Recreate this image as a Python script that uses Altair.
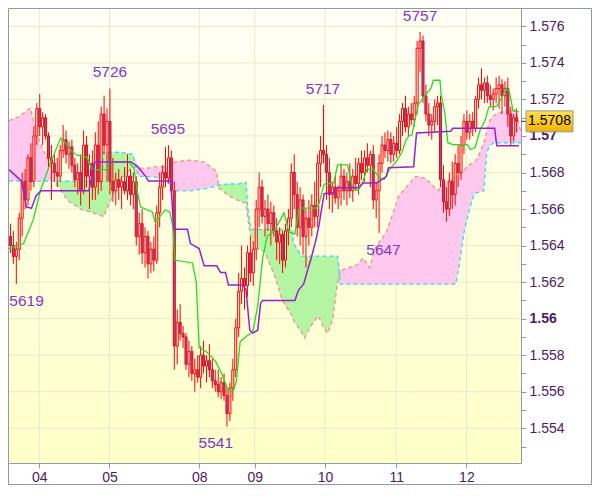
import altair as alt
import pandas as pd

W, H = 512, 454
FONT = "Liberation Sans"
FRAME = "#8E9AA4"
GRID = "#E9E9CC"
LBL = "#4D1A66"
ANN = "#8833CC"
PINK = "#FFC8EE"
GREENF = "#B4F5A4"
SALMON = "#F4908A"
CYAN = "#33DDEE"
TENKAN = "#22DD22"
KIJUN = "#9A1FCF"
RED = "#FF0000"
BEAR = "#6F5BC0"
BULL = "#FFFFE4"

# ---------------- candles (hourly OHLC) ----------------
opens = [
    1.5645, 1.5640, 1.5634, 1.5638, 1.5655, 1.5675, 1.5665, 1.5688, 1.5675, 1.5700,
    1.5715, 1.5705, 1.5710, 1.5700, 1.5688, 1.5685, 1.5680, 1.5678, 1.5692, 1.5698,
    1.5690, 1.5694, 1.5684, 1.5676, 1.5680, 1.5670, 1.5695, 1.5678, 1.5685, 1.5672,
    1.5695, 1.5675, 1.5712, 1.5695, 1.5708, 1.5675, 1.5670, 1.5676, 1.5672, 1.5675,
    1.5670, 1.5678, 1.5668, 1.5675, 1.5645, 1.5652, 1.5636, 1.5645, 1.5630, 1.5638,
    1.5632, 1.5658, 1.5672, 1.5680, 1.5677, 1.5688, 1.5670, 1.5585, 1.5598, 1.5592,
    1.5590, 1.5575, 1.5582, 1.5570, 1.5572, 1.5568, 1.5580, 1.5574, 1.5577, 1.5572,
    1.5566, 1.5564, 1.5560, 1.5565, 1.5558, 1.5548, 1.5562, 1.5572, 1.5595, 1.5615,
    1.5622, 1.5618, 1.5636, 1.5625, 1.5638, 1.5660, 1.5672, 1.5656, 1.5660, 1.5652,
    1.5658, 1.5648, 1.5642, 1.5646, 1.5632, 1.5648, 1.5655, 1.5680, 1.5668, 1.5650,
    1.5665, 1.5645, 1.5655, 1.5650, 1.5662, 1.5656, 1.5685, 1.5692, 1.5690, 1.5680,
    1.5668, 1.5672, 1.5666, 1.5670, 1.5678, 1.5670, 1.5675, 1.5670, 1.5678, 1.5674,
    1.5685, 1.5680, 1.5688, 1.5684, 1.5690, 1.5665, 1.5670, 1.5685, 1.5695, 1.5692,
    1.5698, 1.5690, 1.5696, 1.5692, 1.5708, 1.5715, 1.5705, 1.5712, 1.5709, 1.5718,
    1.5748, 1.5752, 1.5722, 1.5712, 1.5706, 1.5708, 1.5716, 1.5718, 1.5676, 1.5664,
    1.5660, 1.5675, 1.5668, 1.5685, 1.5680, 1.5695, 1.5708, 1.5702, 1.5708, 1.5704,
    1.5720, 1.5728, 1.5725, 1.5729, 1.5722, 1.5720, 1.5723, 1.5726, 1.5728, 1.5722,
    1.5726, 1.5712, 1.5700, 1.5710,
]
highs = [
    1.5652, 1.5648, 1.5642, 1.5658, 1.5680, 1.5682, 1.5690, 1.5696, 1.5705, 1.5718,
    1.5723, 1.5713, 1.5712, 1.5702, 1.5695, 1.5690, 1.5688, 1.5695, 1.5706, 1.5703,
    1.5697, 1.5698, 1.5688, 1.5685, 1.5690, 1.5703, 1.5700, 1.5690, 1.5692, 1.5702,
    1.5708, 1.5716, 1.5722, 1.5715, 1.5726, 1.5688, 1.5680, 1.5682, 1.5678, 1.5683,
    1.5690, 1.5682, 1.5680, 1.5678, 1.5658, 1.5660, 1.5650, 1.5648, 1.5642, 1.5645,
    1.5662, 1.5680, 1.5684, 1.5694, 1.5695, 1.5692, 1.5675, 1.5605, 1.5608, 1.5596,
    1.5592, 1.5588, 1.5585, 1.5578, 1.5580, 1.5585, 1.5588, 1.5580, 1.5586, 1.5578,
    1.5572, 1.5572, 1.5568, 1.5570, 1.5562, 1.5565, 1.5578, 1.5600, 1.5625, 1.5640,
    1.5628, 1.5640, 1.5645, 1.5642, 1.5665, 1.5680, 1.5676, 1.5665, 1.5668, 1.5664,
    1.5662, 1.5655, 1.5650, 1.5648, 1.5652, 1.5660, 1.5685, 1.5690, 1.5675, 1.5672,
    1.5668, 1.5660, 1.5665, 1.5668, 1.5675, 1.5690, 1.5700, 1.5717, 1.5695, 1.5688,
    1.5675, 1.5678, 1.5673, 1.5685, 1.5682, 1.5680, 1.5685, 1.5682, 1.5688, 1.5688,
    1.5692, 1.5692, 1.5696, 1.5692, 1.5695, 1.5675, 1.5690, 1.5700, 1.5702, 1.5703,
    1.5702, 1.5700, 1.5705, 1.5712, 1.5718, 1.5722, 1.5716, 1.5718, 1.5722, 1.5752,
    1.5757, 1.5755, 1.5728, 1.5718, 1.5712, 1.5720, 1.5722, 1.5722, 1.5684, 1.5672,
    1.5680, 1.5686, 1.5690, 1.5695, 1.5700, 1.5712, 1.5714, 1.5712, 1.5713, 1.5722,
    1.5732, 1.5737, 1.5732, 1.5733, 1.5728, 1.5726, 1.5732, 1.5733, 1.5731, 1.5730,
    1.5732, 1.5716, 1.5712, 1.5715,
]
lows = [
    1.5636, 1.5630, 1.5619, 1.5632, 1.5645, 1.5660, 1.5662, 1.5670, 1.5672, 1.5695,
    1.5700, 1.5695, 1.5698, 1.5683, 1.5665, 1.5675, 1.5672, 1.5675, 1.5688, 1.5685,
    1.5682, 1.5680, 1.5672, 1.5668, 1.5662, 1.5668, 1.5672, 1.5660, 1.5665, 1.5665,
    1.5668, 1.5670, 1.5690, 1.5675, 1.5668, 1.5664, 1.5662, 1.5665, 1.5660, 1.5668,
    1.5665, 1.5662, 1.5660, 1.5640, 1.5635, 1.5630, 1.5628, 1.5622, 1.5625, 1.5626,
    1.5630, 1.5650, 1.5665, 1.5672, 1.5674, 1.5668, 1.5572, 1.5575, 1.5588, 1.5584,
    1.5572, 1.5568, 1.5566, 1.5560, 1.5565, 1.5562, 1.5570, 1.5565, 1.5568, 1.5562,
    1.5560, 1.5557, 1.5556, 1.5555, 1.5541, 1.5544, 1.5555, 1.5568, 1.5590, 1.5608,
    1.5605, 1.5612, 1.5620, 1.5618, 1.5632, 1.5650, 1.5652, 1.5645, 1.5648, 1.5640,
    1.5645, 1.5632, 1.5630, 1.5625, 1.5628, 1.5640, 1.5650, 1.5660, 1.5645, 1.5640,
    1.5635, 1.5628, 1.5640, 1.5645, 1.5650, 1.5650, 1.5672, 1.5685, 1.5665, 1.5660,
    1.5658, 1.5663, 1.5660, 1.5662, 1.5665, 1.5662, 1.5666, 1.5664, 1.5670, 1.5668,
    1.5676, 1.5675, 1.5680, 1.5672, 1.5660, 1.5655, 1.5647, 1.5680, 1.5688, 1.5686,
    1.5685, 1.5686, 1.5688, 1.5690, 1.5700, 1.5702, 1.5700, 1.5706, 1.5705, 1.5712,
    1.5735, 1.5718, 1.5708, 1.5700, 1.5698, 1.5702, 1.5706, 1.5672, 1.5658, 1.5653,
    1.5656, 1.5660, 1.5662, 1.5672, 1.5676, 1.5690, 1.5698, 1.5698, 1.5700, 1.5702,
    1.5715, 1.5720, 1.5718, 1.5718, 1.5716, 1.5714, 1.5718, 1.5715, 1.5712, 1.5716,
    1.5705, 1.5695, 1.5697, 1.5702,
]
closes = [
    1.5640, 1.5634, 1.5638, 1.5655, 1.5675, 1.5665, 1.5688, 1.5675, 1.5700, 1.5715,
    1.5705, 1.5710, 1.5700, 1.5688, 1.5685, 1.5680, 1.5678, 1.5692, 1.5698, 1.5690,
    1.5694, 1.5684, 1.5676, 1.5680, 1.5670, 1.5695, 1.5678, 1.5685, 1.5672, 1.5695,
    1.5675, 1.5712, 1.5695, 1.5708, 1.5675, 1.5670, 1.5676, 1.5672, 1.5675, 1.5670,
    1.5678, 1.5668, 1.5675, 1.5645, 1.5652, 1.5636, 1.5645, 1.5630, 1.5638, 1.5632,
    1.5658, 1.5672, 1.5680, 1.5677, 1.5688, 1.5670, 1.5585, 1.5598, 1.5592, 1.5590,
    1.5575, 1.5582, 1.5570, 1.5572, 1.5568, 1.5580, 1.5574, 1.5577, 1.5572, 1.5566,
    1.5564, 1.5560, 1.5565, 1.5558, 1.5548, 1.5562, 1.5572, 1.5595, 1.5615, 1.5622,
    1.5618, 1.5636, 1.5625, 1.5638, 1.5660, 1.5672, 1.5656, 1.5660, 1.5652, 1.5658,
    1.5648, 1.5642, 1.5646, 1.5632, 1.5648, 1.5655, 1.5680, 1.5668, 1.5650, 1.5665,
    1.5645, 1.5655, 1.5650, 1.5662, 1.5656, 1.5685, 1.5692, 1.5690, 1.5680, 1.5668,
    1.5672, 1.5666, 1.5670, 1.5678, 1.5670, 1.5675, 1.5670, 1.5678, 1.5674, 1.5685,
    1.5680, 1.5688, 1.5684, 1.5690, 1.5665, 1.5670, 1.5685, 1.5695, 1.5692, 1.5698,
    1.5690, 1.5696, 1.5692, 1.5708, 1.5715, 1.5705, 1.5712, 1.5709, 1.5718, 1.5748,
    1.5752, 1.5722, 1.5712, 1.5706, 1.5708, 1.5716, 1.5718, 1.5676, 1.5664, 1.5660,
    1.5675, 1.5668, 1.5685, 1.5680, 1.5695, 1.5708, 1.5702, 1.5708, 1.5704, 1.5720,
    1.5728, 1.5725, 1.5729, 1.5722, 1.5720, 1.5723, 1.5726, 1.5728, 1.5722, 1.5726,
    1.5712, 1.5700, 1.5710, 1.5708,
]

# ---------------- Ichimoku cloud (senkou A / senkou B) ----------------
cloud_x = [
    0, 3.3, 7.3, 9, 11, 14.3, 15.7, 20, 25, 27.7,
    31.7, 32.3, 35.7, 37.7, 42.3, 44.3, 46.7, 50, 53.3, 55,
    56.7, 61.7, 66.7, 71, 71.7, 75, 78.3, 81, 81.7, 82.7,
    85, 87.3, 91, 93.3, 96.7, 97.3, 100, 101, 103.3, 105.7,
    107.7, 109, 110.7, 112.3, 113.3, 119, 121, 123.3, 125, 129,
    133.3, 139, 142.3, 146.7, 148.3, 151.7, 152.7, 154, 155.7, 157.3,
    159, 160, 162.3, 163.3, 164.3, 165.7, 166.7, 170, 173.3, 175,
]
senkou_a = [
    1.57084, 1.57105, 1.57153, 1.57042, 1.56947, 1.56832, 1.56753, 1.56647, 1.56595, 1.56584,
    1.56563, 1.56558, 1.56684, 1.56753, 1.56832, 1.56826, 1.56821, 1.56832, 1.56832, 1.56842,
    1.56858, 1.56868, 1.56858, 1.56805, 1.56716, 1.56674, 1.56647, 1.56632, 1.56542, 1.56437,
    1.56384, 1.56368, 1.56226, 1.56105, 1.56016, 1.55990, 1.55926, 1.55895, 1.55963, 1.56016,
    1.55947, 1.55921, 1.56000, 1.56200, 1.56263, 1.56295, 1.56332, 1.56279, 1.56384, 1.56474,
    1.56674, 1.56779, 1.56768, 1.56700, 1.56737, 1.56768, 1.56774, 1.56784, 1.56816, 1.56842,
    1.56858, 1.56874, 1.56963, 1.57026, 1.57084, 1.57111, 1.57121, 1.57142, 1.57142, 1.57016,
]
senkou_b = [
    1.56753, 1.56753, 1.56753, 1.56753, 1.56753, 1.56753, 1.56753, 1.56753, 1.56753, 1.56753,
    1.56753, 1.56911, 1.56911, 1.56911, 1.56900, 1.56779, 1.56779, 1.56774, 1.56768, 1.56726,
    1.56700, 1.56700, 1.56711, 1.56726, 1.56732, 1.56737, 1.56737, 1.56747, 1.56595, 1.56489,
    1.56489, 1.56489, 1.56489, 1.56489, 1.56489, 1.56411, 1.56342, 1.56342, 1.56342, 1.56342,
    1.56342, 1.56342, 1.56342, 1.56342, 1.56189, 1.56189, 1.56189, 1.56189, 1.56189, 1.56189,
    1.56189, 1.56189, 1.56189, 1.56189, 1.56189, 1.56189, 1.56189, 1.56305, 1.56489, 1.56595,
    1.56684, 1.56690, 1.56700, 1.56911, 1.56947, 1.56963, 1.56963, 1.56963, 1.56963, 1.56963,
]

# ---------------- tenkan-sen (green) ----------------
tenkan_x = [
    0, 5, 8.3, 10.7, 14.3, 17.7, 19.3, 21, 23.3, 26.7,
    28.3, 33.3, 34.3, 41, 42.7, 44, 45, 49, 50, 53.3,
    55, 56, 56.7, 62.7, 64, 65, 67.3, 69, 70.7, 72.7,
    73.3, 75, 76.7, 77.7, 79, 81.7, 83.3, 85, 86.7, 88.3,
    90.7, 94, 95.7, 97.7, 99, 100, 105, 106, 107.7, 111,
    112.3, 115.7, 117.3, 119.3, 120.7, 122.3, 124.3, 126.7, 128.3, 130,
    132.3, 134.3, 135.7, 136.7, 137.7, 139, 140, 141.7, 144.3, 145,
    147.3, 147.7, 149, 150, 151.7, 156.7, 157.7, 159.3, 161, 162.7,
    164, 166.7, 169, 170, 171, 172.3, 174.3,
]
tenkan = [
    1.56384, 1.56411, 1.56542, 1.56700, 1.56858, 1.56990, 1.56963, 1.56921, 1.56895, 1.56884,
    1.56816, 1.56816, 1.56858, 1.56858, 1.56821, 1.56684, 1.56611, 1.56584, 1.56526, 1.56595,
    1.56584, 1.56505, 1.56321, 1.56305, 1.56200, 1.55842, 1.55821, 1.55795, 1.55763, 1.55700,
    1.55674, 1.55605, 1.55605, 1.55658, 1.55874, 1.55911, 1.55926, 1.56068, 1.56332, 1.56453,
    1.56479, 1.56579, 1.56474, 1.56463, 1.56595, 1.56605, 1.56605, 1.56632, 1.56737, 1.56742,
    1.56842, 1.56842, 1.56726, 1.56700, 1.56737, 1.56816, 1.56821, 1.56768, 1.56763, 1.56816,
    1.56858, 1.56911, 1.56979, 1.57000, 1.57005, 1.57105, 1.57174, 1.57211, 1.57263, 1.57305,
    1.57305, 1.57226, 1.57121, 1.56963, 1.56953, 1.56953, 1.56926, 1.56937, 1.57032, 1.57084,
    1.57158, 1.57163, 1.57226, 1.57263, 1.57242, 1.57137, 1.57132,
]

# ---------------- kijun-sen (purple) ----------------
kijun_x = [
    0, 4.3, 6, 7.7, 9.3, 11, 27.3, 29.3, 41.7, 44,
    46.7, 47.7, 55.3, 56.3, 61, 62, 65, 66.7, 71, 72.3,
    74, 75, 80, 81, 82.3, 83.3, 85, 86, 86.7, 97.7,
    99, 100.7, 102.3, 103.3, 105, 106, 107.7, 111, 112.3, 119.3,
    121, 125.7, 129, 129.7, 138.3, 139.3, 151, 151.7, 166, 166.7,
    174.3,
]
kijun = [
    1.56816, 1.56753, 1.56611, 1.56605, 1.56674, 1.56700, 1.56700, 1.56858, 1.56858, 1.56832,
    1.56779, 1.56753, 1.56753, 1.56489, 1.56489, 1.56411, 1.56384, 1.56289, 1.56289, 1.56253,
    1.56253, 1.56184, 1.56184, 1.56158, 1.55937, 1.55921, 1.55937, 1.56084, 1.56100, 1.56100,
    1.56158, 1.56189, 1.56279, 1.56332, 1.56437, 1.56516, 1.56684, 1.56690, 1.56716, 1.56716,
    1.56742, 1.56742, 1.56779, 1.56826, 1.56832, 1.57016, 1.57026, 1.57042, 1.57042, 1.56947,
    1.56947,
]

# ---------------- annotations / axes ----------------
high_labels = ["5726", "5757", "5717", "5695"]
high_idx = [34.5, 140.5, 107.3, 54.3]
high_vals = [1.5726, 1.5757, 1.5717, 1.5695]
low_labels = ["5619", "5541", "5647"]
low_idx = [6, 70.7, 128]
low_vals = [1.5619, 1.5541, 1.5647]

day_pos = [10.33, 34.33, 65, 84, 108, 132.33, 156.33]
day_labels = ["04", "05", "08", "09", "10", "11", "12"]
y_ticks = [1.553, 1.554, 1.555, 1.556, 1.557, 1.558, 1.559, 1.560, 1.561, 1.562,
           1.563, 1.564, 1.565, 1.566, 1.567, 1.568, 1.569, 1.570, 1.571, 1.572,
           1.573, 1.574, 1.575, 1.576]
grid_vals = [1.554, 1.556, 1.558, 1.560, 1.562, 1.564, 1.566, 1.568, 1.570, 1.572, 1.574, 1.576]
last_price = [1.5708]

# ---------------- frames ----------------
n = len(closes)
cd = pd.DataFrame({"i": list(range(n)), "o": opens, "h": highs, "l": lows, "c": closes})
cd["xc"] = cd["i"] + 0.5
cd["x0"] = cd["i"] + 0.15
cd["x1"] = cd["i"] + 0.85
cd["top"] = cd[["o", "c"]].max(axis=1)
cd["bot"] = cd[["o", "c"]].min(axis=1)

cl = pd.DataFrame({"x": cloud_x, "a": senkou_a, "b": senkou_b})
cl["hi"] = cl[["a", "b"]].max(axis=1)
cl["lo"] = cl[["a", "b"]].min(axis=1)

tk = pd.DataFrame({"x": tenkan_x, "v": tenkan})
kj = pd.DataFrame({"x": kijun_x, "v": kijun})
hl = pd.DataFrame({"x": high_idx, "v": high_vals, "t": high_labels})
ll = pd.DataFrame({"x": low_idx, "v": low_vals, "t": low_labels})
gd = pd.DataFrame({"v": grid_vals})
dd = pd.DataFrame({"d": day_pos})
lp = pd.DataFrame({"p": last_price})
one = pd.DataFrame({"k": [0]})

xs = alt.Scale(domain=[0, 175], nice=False, zero=False)
ys = alt.Scale(domain=[1.55210, 1.57695], nice=False, zero=False)

x_expr = " : ".join(
    f"abs(datum.value - {p}) < 0.5 ? '{l}'" for p, l in zip(day_pos, day_labels)
) + " : ''"

XAXIS = dict(values=day_pos, labelExpr=x_expr, title=None, grid=False, domain=False,
             tickSize=5, tickColor=FRAME, labelColor=LBL, labelFont=FONT,
             labelFontSize=14, labelPadding=2, labelAngle=0, labelOverlap=False)
YAXIS = dict(orient="right", values=y_ticks,
             labelExpr="round(datum.value*1000) % 2 == 0 ? format(datum.value, '.4~f') : ''",
             labelFontWeight={"condition": {"test": "round(datum.value*1000) % 10 == 0",
                                            "value": "bold"}, "value": "normal"},
             title=None, grid=False, domain=False, tickSize=5, tickColor=FRAME,
             labelColor=LBL, labelFont=FONT, labelFontSize=14, labelPadding=3,
             labelOverlap=False)


def X(f):
    return alt.X(f, type="quantitative", scale=xs, axis=alt.Axis(**XAXIS))


def Y(f):
    return alt.Y(f, type="quantitative", scale=ys, axis=alt.Axis(**YAXIS))


bg = alt.Chart(one).mark_rect(fill={
    "gradient": "linear", "x1": 0, "x2": 0, "y1": 0, "y2": 1,
    "stops": [{"offset": 0, "color": "#FFFFF6"}, {"offset": 1, "color": "#FFFFC8"}]
}).encode(x=alt.value(0), x2=alt.value(W), y=alt.value(0), y2=alt.value(H))

hgrid = alt.Chart(gd).mark_rule(color=GRID, strokeWidth=1).encode(
    y=Y("v"), x=alt.value(0), x2=alt.value(W))
vgrid = alt.Chart(dd).mark_rule(color=GRID, strokeWidth=1).encode(
    x=X("d"), y=alt.value(0), y2=alt.value(H))

pink = alt.Chart(cl).mark_area(color=PINK, opacity=1).encode(
    x=X("x"), y=Y("hi"), y2=alt.Y2("b"))
green = alt.Chart(cl).mark_area(color=GREENF, opacity=1).encode(
    x=X("x"), y=Y("b"), y2=alt.Y2("lo"))
line_a = alt.Chart(cl).mark_line(color=SALMON, strokeWidth=1.3, strokeDash=[4, 3]).encode(
    x=X("x"), y=Y("a"))
line_b = alt.Chart(cl).mark_line(color=CYAN, strokeWidth=1.3, strokeDash=[4, 3]).encode(
    x=X("x"), y=Y("b"))

wick = alt.Chart(cd).mark_rule(color=RED, strokeWidth=1).encode(
    x=X("xc"), y=Y("l"), y2=alt.Y2("h"))
body = alt.Chart(cd).mark_rect(stroke=RED, strokeWidth=1).encode(
    x=X("x0"), x2=alt.X2("x1"), y=Y("top"), y2=alt.Y2("bot"),
    fill=alt.condition("datum.c < datum.o", alt.value(BEAR), alt.value(BULL)))

tline = alt.Chart(tk).mark_line(color=TENKAN, strokeWidth=1.3).encode(x=X("x"), y=Y("v"))
kline = alt.Chart(kj).mark_line(color=KIJUN, strokeWidth=1.5).encode(x=X("x"), y=Y("v"))

htext = alt.Chart(hl).mark_text(font=FONT, fontSize=15.5, color=ANN, dy=-16).encode(
    x=X("x"), y=Y("v"), text="t:N")
ltext = alt.Chart(ll).mark_text(font=FONT, fontSize=15.5, color=ANN, dy=17).encode(
    x=X("x"), y=Y("v"), text="t:N")

ptick = alt.Chart(lp).mark_rule(color=LBL, strokeWidth=1).encode(
    x=alt.value(W), x2=alt.value(W + 5), y=Y("p"))
pbox = alt.Chart(lp).mark_rect(
    yOffset=-10.5, y2Offset=10.5, stroke=FRAME, strokeWidth=1,
    fill={"gradient": "linear", "x1": 0, "x2": 0, "y1": 0, "y2": 1,
          "stops": [{"offset": 0, "color": "#FFE04A"}, {"offset": 1, "color": "#F2B400"}]}
).encode(x=alt.value(W + 5), x2=alt.value(W + 52), y=Y("p"), y2=alt.Y2("p"))
ptext = alt.Chart(lp).mark_text(font=FONT, fontSize=14, color="black", align="center").encode(
    x=alt.value(W + 28.5), y=Y("p"), text=alt.Text("p:Q", format=".4f"))

frame = alt.Chart(one).mark_rect(fillOpacity=0, stroke=FRAME, strokeWidth=1).encode(
    x=alt.value(-0.5), x2=alt.value(W + 70.5), y=alt.value(-0.5), y2=alt.value(H + 21.5))

chart = alt.layer(
    bg, hgrid, vgrid, pink, green, line_a, line_b, wick, body, tline, kline,
    htext, ltext, ptick, pbox, ptext, frame
).properties(
    width=W, height=H,
    padding={"left": 1, "top": 1, "right": 71, "bottom": 22},
    autosize=alt.AutoSizeParams(type="none"),
    background="white",
).configure_view(stroke=FRAME, strokeWidth=1)

chart.save("out.html", embed_options={"renderer": "svg", "actions": False})
